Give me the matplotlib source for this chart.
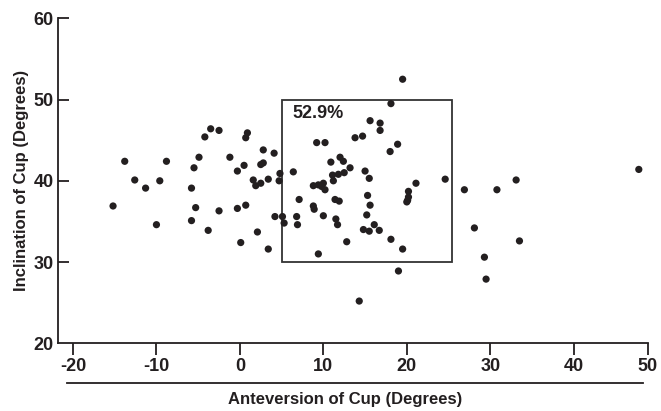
import matplotlib
matplotlib.use('Agg')
import matplotlib.pyplot as plt
from matplotlib.patches import Rectangle
from matplotlib.lines import Line2D

plt.rcParams['font.family'] = ['Liberation Sans', 'DejaVu Sans']
plt.rcParams['font.weight'] = 'bold'

# anteversion (x) and inclination (y) of cup, degrees
antev = [-15.2, -13.8, -12.6, -11.3, -10.0, -9.6, -8.8, -5.8, -5.8, -5.5,
         -5.3, -4.9, -4.2, -3.8, -3.5, -2.5, -2.5, -1.2, -0.3, -0.3,
         0.1, 0.5, 0.7, 0.7, 0.9, 1.6, 1.9, 2.1, 2.5, 2.5,
         2.8, 2.8, 3.4, 3.4, 4.1, 4.2, 4.7, 4.8, 5.1, 5.3,
         6.4, 6.8, 6.9, 7.1, 8.8, 8.9, 8.8, 9.4, 9.4, 9.8,
         10.0, 10.0, 10.2, 9.2, 10.2, 10.9, 11.1, 11.2, 11.4, 11.9,
         11.5, 11.7, 11.8, 12.0, 12.4, 12.5, 12.8, 13.2, 13.8, 14.3,
         14.7, 14.8, 15.0, 15.2, 15.3, 15.5, 15.5, 15.6, 15.6, 16.1,
         16.7, 16.8, 16.8, 18.0, 18.1, 18.1, 18.9, 19.0, 19.5, 19.5,
         20.1, 20.2, 20.2, 20.0, 21.1, 24.6, 26.9, 28.1, 29.3, 29.5,
         30.8, 33.1, 33.5, 47.8]
incl = [36.9, 42.4, 40.1, 39.1, 34.6, 40.0, 42.4, 39.1, 35.1, 41.6,
        36.7, 42.9, 45.4, 33.9, 46.4, 46.2, 36.3, 42.9, 41.2, 36.6,
        32.4, 41.9, 45.3, 37.0, 45.9, 40.1, 39.4, 33.7, 39.7, 42.0,
        42.2, 43.8, 40.2, 31.6, 43.4, 35.6, 40.0, 40.9, 35.6, 34.8,
        41.1, 35.6, 34.6, 37.7, 36.9, 36.5, 39.4, 31.0, 39.5, 39.3,
        39.7, 35.7, 38.9, 44.7, 44.7, 42.3, 40.7, 40.0, 37.7, 37.5,
        35.3, 34.6, 40.8, 42.9, 42.4, 41.0, 32.5, 41.6, 45.3, 25.2,
        45.5, 34.0, 41.2, 35.8, 38.2, 40.3, 33.8, 37.0, 47.4, 34.6,
        33.9, 47.1, 46.2, 43.6, 49.5, 32.8, 44.5, 28.9, 52.5, 31.6,
        37.6, 38.7, 38.0, 37.4, 39.7, 40.2, 38.9, 34.2, 30.6, 27.9,
        38.9, 40.1, 32.6, 41.4]

xticks = [-20, -10, 0, 10, 20, 30, 40, 48.9]
xticklabels = ['-20', '-10', '0', '10', '20', '30', '40', '50']
yticks = [20, 30, 40, 50, 60]
box_x, box_y, box_w, box_h = 5, 30, 20.4, 20
box_label = '52.9%'

ink = '#231f20'

fig = plt.figure(figsize=(6.61, 4.11), dpi=100)
ax = fig.add_axes([0.0877, 0.1647, 0.8926, 0.7908])

ax.scatter(antev, incl, s=27, color=ink, edgecolors='none', zorder=3)
ax.add_patch(Rectangle((box_x, box_y), box_w, box_h, fill=False,
                       edgecolor='#333333', lw=1.3, zorder=2))
ax.text(6.3, 49.3, box_label, fontsize=13, fontweight='bold', color=ink,
        va='top', ha='left')

ax.set_xlim(-21.8, 48.9)
ax.set_ylim(20, 60)
ax.set_xticks(xticks)
ax.set_xticklabels(xticklabels)
ax.set_yticks(yticks)
for s in ['top', 'right']:
    ax.spines[s].set_visible(False)
for s in ['left', 'bottom']:
    ax.spines[s].set_linewidth(1.3)
    ax.spines[s].set_color(ink)
ax.tick_params(axis='y', direction='in', length=8, width=1.3, pad=3,
               labelsize=13, colors=ink)
ax.tick_params(axis='x', direction='out', length=8.5, width=1.3, pad=2,
               labelsize=13, colors=ink)
ax.yaxis.get_major_ticks()[0].tick1line.set_visible(False)

# rule under tick labels
fig.add_artist(Line2D([0.101, 0.973], [0.068, 0.068], transform=fig.transFigure,
                      color=ink, lw=1.3))
fig.text(0.522, 0.027, 'Anteversion of Cup (Degrees)', ha='center', va='center',
         fontsize=12, fontweight='bold', color=ink)
fig.text(0.032, 0.56, 'Inclination of Cup (Degrees)', ha='center', va='center',
         rotation=90, fontsize=12, fontweight='bold', color=ink)

fig.savefig('out.png', dpi=100)
